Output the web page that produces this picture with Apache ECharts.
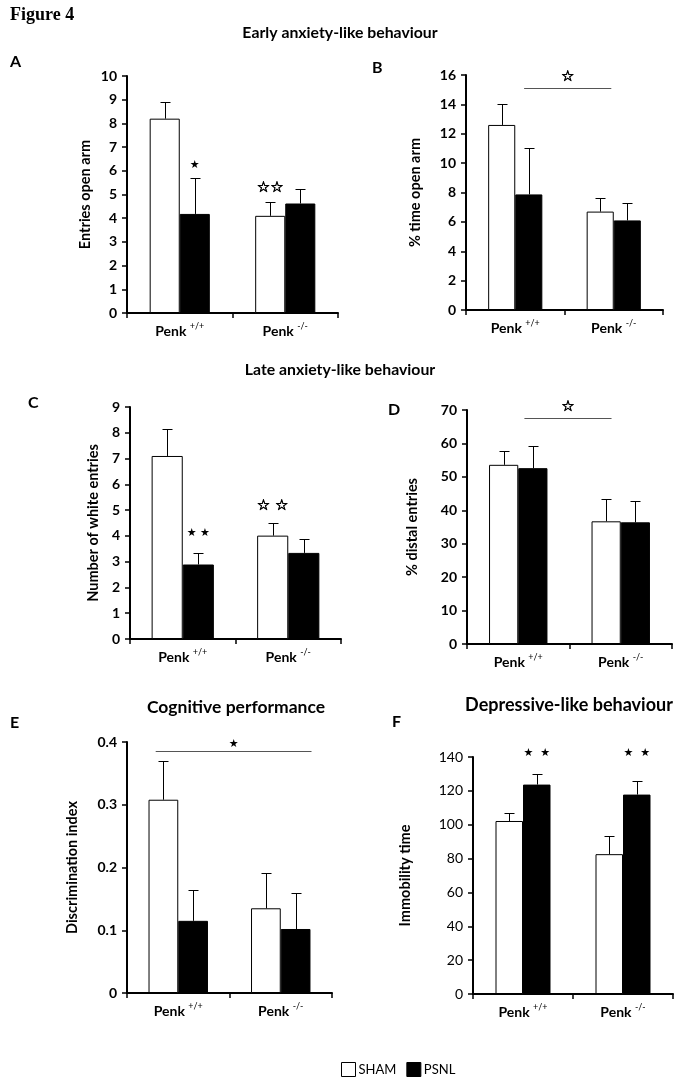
<!DOCTYPE html>
<html><head><meta charset="utf-8">
<script src="https://cdn.jsdelivr.net/npm/echarts@6/dist/echarts.min.js"></script>
<style>html,body{margin:0;padding:0;background:#fff}#c{width:675px;height:1077px}</style>
</head><body><div id="c"></div>
<script>
const categories = ['Penk +/+', 'Penk -/-'];

const shamA = [8.2, 4.1],     shamErrA = [0.72, 0.6],    psnlA = [4.18, 4.62],  psnlErrA = [1.52, 0.62];
const shamB = [12.6, 6.7],    shamErrB = [1.42, 0.9],    psnlB = [7.87, 6.1],   psnlErrB = [3.13, 1.2];
const shamC = [7.1, 4.01],    shamErrC = [1.06, 0.5],    psnlC = [2.89, 3.34],  psnlErrC = [0.44, 0.53];
const shamD = [53.6, 36.7],   shamErrD = [4.0, 6.7],     psnlD = [52.6, 36.4],  psnlErrD = [6.5, 6.5];
const shamE = [0.308, 0.135], shamErrE = [0.061, 0.056], psnlE = [0.115, 0.102], psnlErrE = [0.049, 0.057];
const shamF = [102.2, 82.6],  shamErrF = [4.8, 10.6],    psnlF = [123.7, 117.8], psnlErrF = [6.1, 8.0];

const ticksA = [0, 1, 2, 3, 4, 5, 6, 7, 8, 9, 10];
const ticksB = [0, 2, 4, 6, 8, 10, 12, 14, 16];
const ticksC = [0, 1, 2, 3, 4, 5, 6, 7, 8, 9];
const ticksD = [0, 10, 20, 30, 40, 50, 60, 70];
const ticksE = [0, 0.1, 0.2, 0.3, 0.4];
const ticksF = [0, 20, 40, 60, 80, 100, 120, 140];

// significance stars above single bars: [category, bar, value, text]
const starsA = [[0, 'PSNL', 6.24, '★'], [1, 'SHAM', 5.27, '☆☆']];
const starsC = [[0, 'PSNL', 4.11, '★ ★'], [1, 'SHAM', 5.16, '☆ ☆']];
const starsF = [[0, 'PSNL', 142.2, '★  ★'], [1, 'PSNL', 142.2, '★  ★']];
// significance bars between groups: [from (category units), to (category units), value, text]
const sigB = [[0.09, 0.975, 15.1, '☆']];
const sigD = [[0.06, 0.91, 67.6, '☆']];
const sigE = [[-0.22, 1.3, 0.385, '★']];

const FONT = 'Lato';
const panels = [
  {name: 'Entries open arm', sham: shamA, shamErr: shamErrA, psnl: psnlA, psnlErr: psnlErrA, ticks: ticksA, stars: starsA, sig: null,
   grid: {left: 127, top: 76, width: 211, height: 237}, gap: 0.43, nameGap: 34, bold: true},
  {name: '% time open arm', sham: shamB, shamErr: shamErrB, psnl: psnlB, psnlErr: psnlErrB, ticks: ticksB, stars: null, sig: sigB,
   grid: {left: 466, top: 75, width: 197, height: 235}, gap: 0.45, nameGap: 43, bold: true},
  {name: 'Number of white entries', sham: shamC, shamErr: shamErrC, psnl: psnlC, psnlErr: psnlErrC, ticks: ticksC, stars: starsC, sig: null,
   grid: {left: 130, top: 407, width: 211, height: 232}, gap: 0.41, nameGap: 29, bold: true},
  {name: '% distal entries', sham: shamD, shamErr: shamErrD, psnl: psnlD, psnlErr: psnlErrD, ticks: ticksD, stars: null, sig: sigD,
   grid: {left: 467, top: 410, width: 205, height: 234}, gap: 0.43, nameGap: 47, bold: true},
  {name: 'Discrimination index', sham: shamE, shamErr: shamErrE, psnl: psnlE, psnlErr: psnlErrE, ticks: ticksE, stars: null, sig: sigE,
   grid: {left: 127, top: 742, width: 205, height: 251}, gap: 0.42, nameGap: 47, bold: true},
  {name: 'Immobility time', sham: shamF, shamErr: shamErrF, psnl: psnlF, psnlErr: psnlErrF, ticks: ticksF, stars: starsF, sig: null,
   grid: {left: 473, top: 757, width: 200, height: 237}, gap: 0.45, nameGap: 60, bold: false}
];

function starStyle(text, size) {
  const filled = text.indexOf('★') >= 0;
  const st = {text: text, fill: '#000', fontFamily: 'DejaVu Sans', fontSize: filled ? size : size + 4};
  if (!filled) { st.stroke = '#000'; st.lineWidth = 0.7; }
  return st;
}

function errSeries(gi, vals, errs, side, gap) {
  return {
    type: 'custom', xAxisIndex: gi, yAxisIndex: gi, z: 4, silent: true, clip: false,
    data: vals.map((v, i) => [i, v, v + errs[i]]),
    encode: {x: 0, y: [1, 2]},
    renderItem: (params, api) => {
      const cw = api.size([1, 0])[0];
      const bw = cw * (1 - gap) / 2;
      const base = api.coord([api.value(0), api.value(1)]);
      const top = api.coord([api.value(0), api.value(2)]);
      const x = Math.round(base[0] + side * bw / 2) + 0.5;
      const yt = Math.round(top[1]) + 0.5;
      return {type: 'group', children: [
        {type: 'line', shape: {x1: x, y1: base[1], x2: x, y2: yt}, style: {stroke: '#000', lineWidth: 1}},
        {type: 'line', shape: {x1: x - 5, y1: yt, x2: x + 5, y2: yt}, style: {stroke: '#000', lineWidth: 1}}
      ]};
    }
  };
}

function starSeries(gi, stars, gap) {
  return {
    type: 'custom', xAxisIndex: gi, yAxisIndex: gi, z: 5, silent: true, clip: false,
    data: stars.map(s => [s[0], s[2]]),
    encode: {x: 0, y: 1},
    renderItem: (params, api) => {
      const s = stars[params.dataIndex];
      const p = api.coord([api.value(0), api.value(1)]);
      const cw = api.size([1, 0])[0];
      const bw = cw * (1 - gap) / 2;
      const x = p[0] + (s[1] === 'SHAM' ? -bw / 2 : s[1] === 'PSNL' ? bw / 2 : 0);
      const st = starStyle(s[3], 11);
      st.align = 'center'; st.verticalAlign = 'middle';
      return {type: 'text', x: x, y: p[1], style: st};
    }
  };
}

function sigSeries(gi, sigs) {
  return {
    type: 'custom', xAxisIndex: gi, yAxisIndex: gi, z: 5, silent: true, clip: false,
    data: sigs.map(s => [0, s[2]]),
    encode: {x: 0, y: 1},
    renderItem: (params, api) => {
      const s = sigs[params.dataIndex];
      const p = api.coord([0, api.value(1)]);
      const cw = api.size([1, 0])[0];
      const x1 = p[0] + s[0] * cw, x2 = p[0] + s[1] * cw;
      const y = Math.round(p[1]) + 0.5;
      const filled = s[3].indexOf('★') >= 0;
      const st = starStyle(s[3], 11);
      st.align = 'center'; st.verticalAlign = 'bottom';
      return {type: 'group', children: [
        {type: 'line', shape: {x1: x1, y1: y, x2: x2, y2: y}, style: {stroke: '#555', lineWidth: 1.2}},
        {type: 'text', x: (x1 + x2) / 2, y: y - (filled ? 2 : 4), style: st}
      ]};
    }
  };
}

const grids = [], xAxes = [], yAxes = [], series = [];
panels.forEach((pn, gi) => {
  grids.push(Object.assign({containLabel: false}, pn.grid));
  xAxes.push({
    type: 'category', gridIndex: gi, data: categories,
    axisLine: {lineStyle: {color: '#000', width: 2}},
    axisTick: {show: true, length: 5, lineStyle: {color: '#000', width: 1.5}},
    axisLabel: {
      margin: 9, color: '#000', interval: 0, hideOverlap: false,
      formatter: v => { const parts = v.split(' '); return '{a|' + parts[0] + '} {s|' + parts[1] + '}'; },
      rich: {
        a: {fontFamily: FONT, fontWeight: 'bold', fontSize: 14, color: '#000', lineHeight: 18},
        s: {fontFamily: FONT, fontSize: 9, color: '#000', lineHeight: 18, verticalAlign: 'top', padding: [0, 0, 7, 0]}
      }
    },
    splitLine: {show: false}
  });
  const t = pn.ticks;
  yAxes.push({
    type: 'value', gridIndex: gi, min: t[0], max: t[t.length - 1], interval: t[1] - t[0],
    name: pn.name, nameLocation: 'middle', nameGap: pn.nameGap, nameRotate: 90,
    nameTextStyle: {fontFamily: FONT, fontWeight: 'bold', fontSize: 14.5, color: '#000'},
    axisLine: {show: true, lineStyle: {color: '#000', width: 2}},
    axisTick: {show: true, length: 5, lineStyle: {color: '#000', width: 1.5}},
    axisLabel: {margin: 10, color: '#000', fontFamily: FONT, fontSize: 14, fontWeight: pn.bold ? 'bold' : 'normal',
      formatter: v => String(Math.round(v * 1000) / 1000)},
    splitLine: {show: false}
  });
  series.push({
    name: 'SHAM', type: 'bar', xAxisIndex: gi, yAxisIndex: gi, data: pn.sham,
    barGap: '0%', barCategoryGap: (pn.gap * 100) + '%',
    itemStyle: {color: '#fff', borderColor: '#000', borderWidth: 1}, silent: true
  });
  series.push({
    name: 'PSNL', type: 'bar', xAxisIndex: gi, yAxisIndex: gi, data: pn.psnl,
    barGap: '0%', barCategoryGap: (pn.gap * 100) + '%',
    itemStyle: {color: '#000', borderColor: '#000', borderWidth: 1}, silent: true
  });
  series.push(errSeries(gi, pn.sham, pn.shamErr, -1, pn.gap));
  series.push(errSeries(gi, pn.psnl, pn.psnlErr, 1, pn.gap));
  if (pn.stars) series.push(starSeries(gi, pn.stars, pn.gap));
  if (pn.sig) series.push(sigSeries(gi, pn.sig));
});

function label(text, x, y, size, align, family) {
  return {type: 'text', x: x, y: y, silent: true, style: {
    text: text, fill: '#000', fontFamily: family || FONT, fontWeight: 'bold', fontSize: size,
    align: align || 'center', verticalAlign: 'middle'}};
}

const chart = echarts.init(document.getElementById('c'), null, {renderer: 'canvas'});
chart.setOption({
  animation: false,
  backgroundColor: '#fff',
  grid: grids, xAxis: xAxes, yAxis: yAxes, series: series,
  legend: {
    left: 336, top: 1057, itemWidth: 14, itemHeight: 14, itemGap: 10, icon: 'rect',
    textStyle: {fontFamily: FONT, fontSize: 13, color: '#000', padding: [0, 0, 0, -2]},
    data: [
      {name: 'SHAM', itemStyle: {color: '#fff', borderColor: '#000', borderWidth: 1}},
      {name: 'PSNL', itemStyle: {color: '#000', borderColor: '#000', borderWidth: 1}}
    ],
    selectedMode: false
  },
  graphic: [
    label('Figure 4', 10, 15, 18, 'left', 'Liberation Serif'),
    label('Early anxiety-like behaviour', 340, 33, 15.8),
    label('Late anxiety-like behaviour', 340, 370, 15.8),
    label('Cognitive performance', 236, 707, 17.5),
    label('Depressive-like behaviour', 569, 705, 18),
    label('A', 10, 62, 16, 'left'),
    label('B', 372, 68, 16, 'left'),
    label('C', 28, 403, 16, 'left'),
    label('D', 388, 410, 16, 'left'),
    label('E', 10, 723, 16, 'left'),
    label('F', 392, 722, 16, 'left')
  ]
});
</script>
</body></html>
